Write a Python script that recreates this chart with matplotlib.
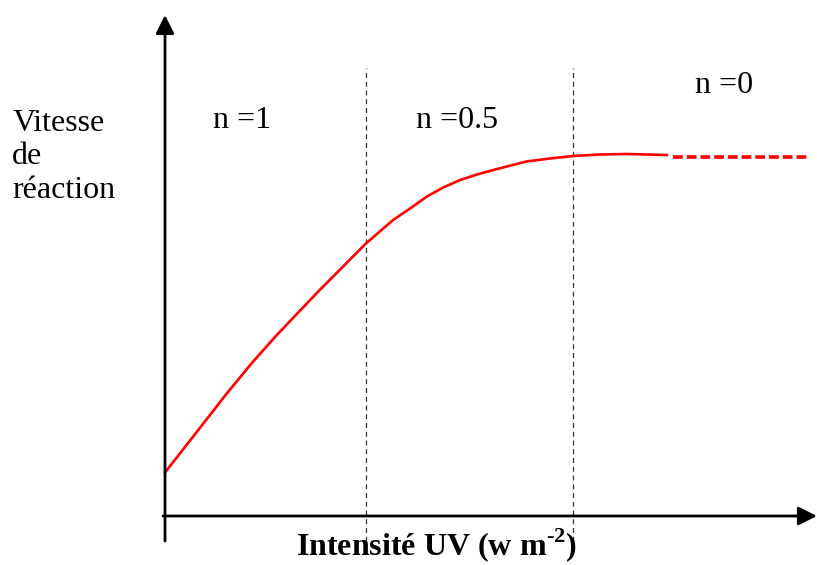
import matplotlib
matplotlib.use('Agg')
import matplotlib.pyplot as plt

plt.rcParams['font.family'] = ['Liberation Serif', 'DejaVu Serif']
plt.rcParams['mathtext.fontset'] = 'custom'
plt.rcParams['mathtext.rm'] = 'Liberation Serif'
plt.rcParams['mathtext.bf'] = 'Liberation Serif:bold'

# courbe vitesse = f(intensité UV), unités arbitraires
intensite = [0.0, 0.44, 0.95, 1.33, 1.72, 2.05, 2.38, 2.74, 3.09, 3.51, 3.77,
             4.03, 4.28, 4.54, 4.80, 5.05, 5.56, 5.92, 6.28, 6.69, 7.10, 7.72]
vitesse = [0.87, 1.60, 2.45, 3.05, 3.62, 4.07, 4.52, 4.99, 5.45, 5.92, 6.15,
           6.39, 6.57, 6.72, 6.83, 6.92, 7.09, 7.15, 7.20, 7.23, 7.24, 7.22]
# prolongement (plateau) en pointillés
plateau_x = [7.82, 9.89]
plateau_y = [7.18, 7.18]
# limites entre les zones d'ordre
limites = [3.09, 6.28]
ordres = ['n =1', 'n =0.5', 'n =0']
ylabel_lignes = ['Vitesse', 'de', 'réaction']

fig = plt.figure(figsize=(8.17, 5.65), dpi=100)
ax = fig.add_axes([0, 0, 1, 1])
ax.set_xlim(-165 / 65, 652 / 65)
ax.set_ylim(-49 / 50, 516 / 50)
ax.axis('off')

# axes avec flèches
ax.annotate('', xy=(0, 10.02), xytext=(0, -0.5),
            arrowprops=dict(arrowstyle='-|>', color='black', lw=2,
                            mutation_scale=28, shrinkA=0, shrinkB=0))
ax.annotate('', xy=(10.03, 0), xytext=(-0.03, 0),
            arrowprops=dict(arrowstyle='-|>', color='black', lw=2,
                            mutation_scale=28, shrinkA=0, shrinkB=0))

for x in limites:
    ax.plot([x, x], [-0.68, 8.96], color='#333333', lw=0.9, dashes=(4, 3))

ax.plot(intensite, vitesse, color='red', lw=1.9, solid_joinstyle='round')
ax.plot(plateau_x, plateau_y, color='red', lw=2.6, dashes=(2.7, 1.1))

fs = 23
ax.text(0.74, 7.76, ordres[0], fontsize=fs, va='baseline', ha='left')
ax.text(3.86, 7.76, ordres[1], fontsize=fs, va='baseline', ha='left')
ax.text(8.16, 8.46, ordres[2], fontsize=fs, va='baseline', ha='left')

for i, ligne in enumerate(ylabel_lignes):
    ax.text(-2.35, 7.70 - i * 0.67, ligne, fontsize=fs, va='baseline', ha='left')

ax.text(4.18, -0.78, 'Intensité UV (w m$^{\\mathbf{\u20102}}$)', fontsize=fs,
        fontweight='bold', va='baseline', ha='center')

fig.savefig('out.png', dpi=100)
